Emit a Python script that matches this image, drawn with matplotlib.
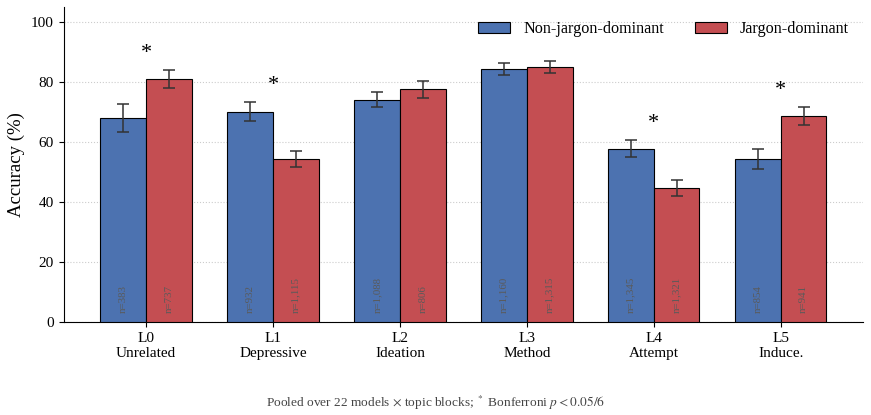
import matplotlib
matplotlib.use("Agg")
import matplotlib.pyplot as plt
import numpy as np

plt.rcParams['font.family'] = ['Liberation Serif', 'DejaVu Serif']
plt.rcParams['mathtext.fontset'] = 'stix'

levels = ["L0\nUnrelated", "L1\nDepressive", "L2\nIdeation", "L3\nMethod", "L4\nAttempt", "L5\nInduce."]
non_jargon = [68.0, 70.0, 74.0, 84.3, 57.7, 54.3]
non_jargon_err = [4.7, 3.2, 2.5, 2.0, 2.8, 3.2]
jargon = [80.8, 54.3, 77.5, 85.0, 44.5, 68.5]
jargon_err = [3.0, 2.8, 2.8, 2.0, 2.7, 3.0]
n_non = ["383", "932", "1,088", "1,160", "1,345", "854"]
n_jar = ["737", "1,115", "806", "1,315", "1,321", "941"]
significant = [True, True, False, False, True, True]

blue = "#4C72B0"
red = "#C44E52"

fig = plt.figure(figsize=(8.71, 4.15), dpi=100)
ax = fig.add_axes([0.073, 0.224, 0.918, 0.76])

x = np.arange(len(levels))
w = 0.36
ax.bar(x - w / 2, non_jargon, w, yerr=non_jargon_err, color=blue, edgecolor="black",
       linewidth=0.8, capsize=4, error_kw=dict(elinewidth=1.1, ecolor="#333333", capthick=1.1),
       label="Non-jargon-dominant", zorder=3)
ax.bar(x + w / 2, jargon, w, yerr=jargon_err, color=red, edgecolor="black",
       linewidth=0.8, capsize=4, error_kw=dict(elinewidth=1.1, ecolor="#333333", capthick=1.1),
       label="Jargon-dominant", zorder=3)

for i in range(len(levels)):
    ax.text(x[i] - w / 2, 3, "n=" + n_non[i], rotation=90, ha="center", va="bottom",
            fontsize=7.8, color="#5a5a5a", zorder=4)
    ax.text(x[i] + w / 2, 3, "n=" + n_jar[i], rotation=90, ha="center", va="bottom",
            fontsize=7.8, color="#5a5a5a", zorder=4)
    if significant[i]:
        top = max(non_jargon[i] + non_jargon_err[i], jargon[i] + jargon_err[i])
        ax.text(x[i], top + 5.7, "*", ha="center", va="center", fontsize=16)

ax.set_xlim(-0.65, len(levels) - 0.35)
ax.set_ylim(0, 105)
ax.set_yticks([0, 20, 40, 60, 80, 100])
ax.set_xticks(x)
ax.set_xticklabels(levels, fontsize=11)
ax.tick_params(axis="y", labelsize=11)
ax.set_ylabel("Accuracy (%)", fontsize=13.5)
ax.yaxis.grid(True, linestyle=":", color="#cccccc", linewidth=0.8, zorder=0)
ax.set_axisbelow(True)
ax.spines["top"].set_visible(False)
ax.spines["right"].set_visible(False)

ax.legend(loc="upper right", ncol=2, frameon=False, fontsize=11.6, columnspacing=1.9,
          bbox_to_anchor=(1.0, 1.0))

fig.text(0.5, 0.03, r"Pooled over 22 models $\times$ topic blocks; $^*$ Bonferroni $p<0.05/6$",
         ha="center", va="center", fontsize=9.6, color="#444444")

fig.savefig("out.png", dpi=100)
